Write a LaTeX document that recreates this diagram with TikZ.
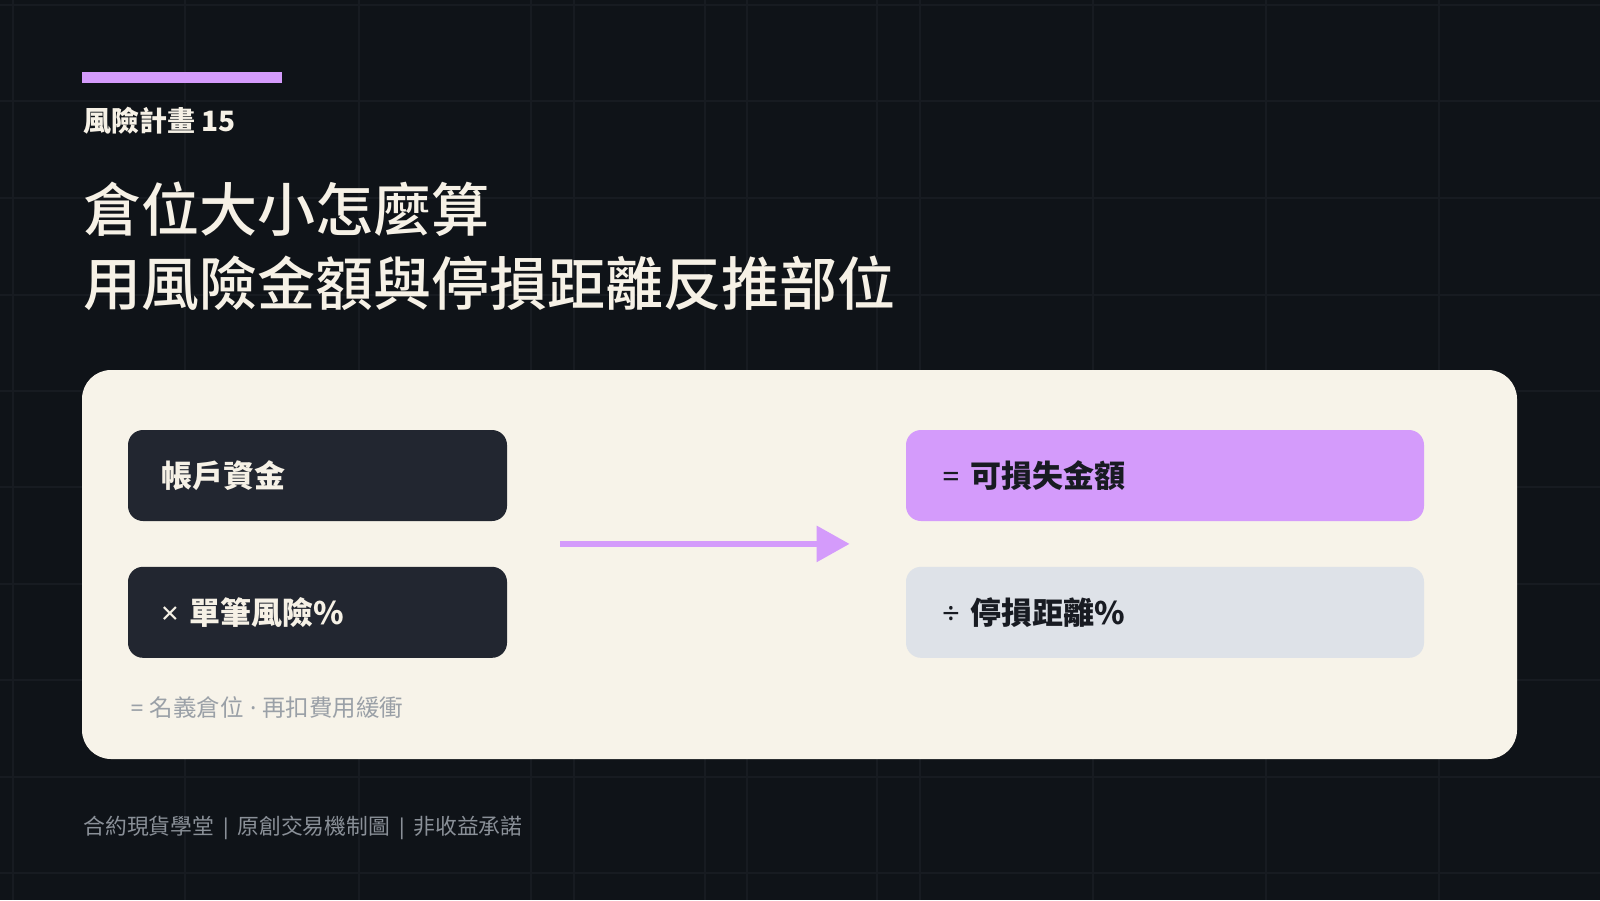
\documentclass[tikz,border=0pt]{standalone}
\usepackage{fontspec}
\setmainfont{Noto Sans CJK TC}
\newfontfamily\symfont{Noto Sans}
\newfontfamily\medfont{Noto Sans CJK TC Medium}
\usetikzlibrary{arrows.meta, positioning, calc}
\definecolor{bgdark}{RGB}{15,19,24}
\definecolor{gridline}{RGB}{23,27,33}
\definecolor{cardcream}{RGB}{247,243,233}
\definecolor{boxdark}{RGB}{34,38,48}
\definecolor{accentviolet}{RGB}{212,155,251}
\definecolor{boxgray}{RGB}{222,226,232}
\definecolor{inkcream}{RGB}{246,241,230}
\definecolor{inkdark}{RGB}{24,27,34}
\definecolor{notegray}{RGB}{154,160,167}
\definecolor{footgray}{RGB}{138,144,152}

\begin{document}
\begin{tikzpicture}[
    x=0.5pt, y=-0.5pt,
    node distance=22.5pt,
    gridln/.style={draw=gridline, line width=0.6pt},
    inputbox/.style={fill=boxdark, rounded corners=7.5pt, minimum height=45.5pt,
                     inner xsep=16.5pt, inner ysep=0pt, text width=156.5pt, align=left,
                     text=inkcream, font=\fontsize{15.5}{18}\selectfont\bfseries},
    outbox/.style={rounded corners=7.5pt, minimum height=45.5pt,
                   inner xsep=18pt, inner ysep=0pt, text width=223pt, align=left,
                   text=inkdark, font=\fontsize{15.5}{18}\selectfont\bfseries},
    heading/.style={anchor=west, inner sep=0pt, text=inkcream,
                    font=\fontsize{29}{34}\selectfont\medfont},
    arr/.style={-{Triangle[length=16.5pt, width=17.5pt]}, line width=3pt, draw=accentviolet},
  ]
    \useasboundingbox (0,0) rectangle (1600,900);
    \fill[bgdark] (0,0) rectangle (1600,900);

    % faint background grid
    \foreach \gx in {13,185,359,531,574,705,747,877,920,1093,1266,1439}
      \draw[gridln] (\gx,0) -- (\gx,900);
    \foreach \gy in {5,101,198,295,391,487,584,680,777,873}
      \draw[gridln] (0,\gy) -- (1600,\gy);

    % header
    \fill[accentviolet] (82,72) rectangle (282,83);
    \node[anchor=west, inner sep=0pt, text=inkcream,
          font=\fontsize{14}{17}\selectfont\bfseries] (kicker) at (83,121) {風險計畫 15};
    \node[heading] (title1) at (83,209) {倉位大小怎麼算};
    \node[heading] (title2) at (83,283) {用風險金額與停損距離反推部位};

    % card
    \fill[cardcream, rounded corners=14.5pt] (82,370) rectangle (1517,759);

    \node[inputbox] (acct) at (317.5,475.5) {帳戶資金};
    \node[inputbox, below=of acct] (risk) {{\symfont\bfseries ×} 單筆風險\%};
    \node[outbox, fill=accentviolet] (loss) at (1165,475.5) {{\symfont\bfseries =} 可損失金額};
    \node[outbox, fill=boxgray, below=of loss] (stop) {{\symfont\bfseries ÷} 停損距離\%};

    \draw[arr, shorten <=26.5pt, shorten >=28pt]
      ($(acct.east)!0.5!(risk.east)$) -- ($(loss.west)!0.5!(stop.west)$);

    \node[anchor=west, inner sep=0pt, text=notegray,
          font=\fontsize{11.75}{14}\selectfont] (note) at (130,708)
          {{\symfont\bfseries =\ }名義倉位{\symfont\ ·\ }再扣費用緩衝};

    % footer
    \node[anchor=west, inner sep=0pt, text=footgray,
          font=\fontsize{10.9}{13}\selectfont] (footer) at (83,828)
          {合約現貨學堂{\symfont\ |\ }原創交易機制圖{\symfont\ |\ }非收益承諾};
\end{tikzpicture}
\end{document}
